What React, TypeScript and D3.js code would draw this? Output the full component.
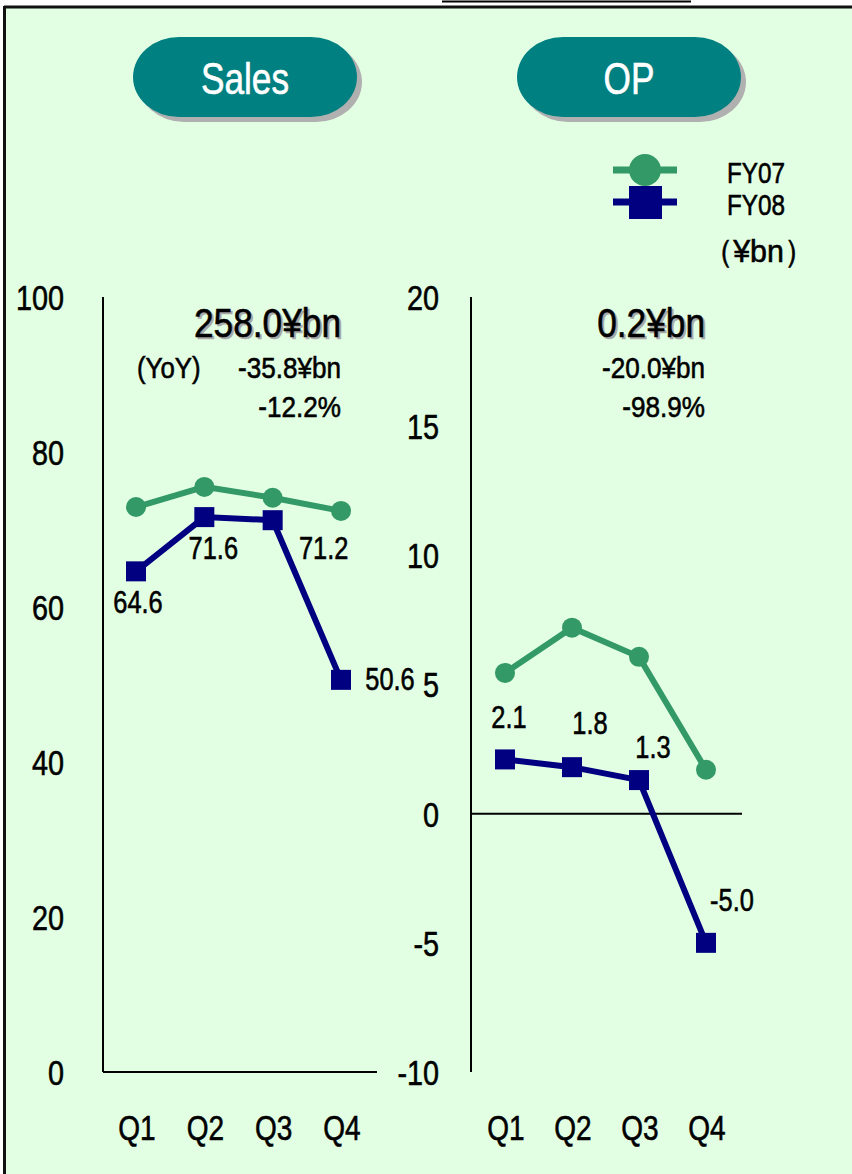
import * as d3 from 'd3';
import type { ReactNode } from 'react';

// values
const quarters = ['Q1', 'Q2', 'Q3', 'Q4'];
const salesFY07 = [72.9, 75.5, 74.1, 72.4];
const salesFY08 = [64.6, 71.6, 71.2, 50.6];
const opFY07 = [5.45, 7.2, 6.07, 1.7];
const opFY08 = [2.1, 1.8, 1.3, -5.0];
const salesTicks = [0, 20, 40, 60, 80, 100];
const opTicks = [-10, -5, 0, 5, 10, 15, 20];
const salesSummary = ['258.0¥bn', '-35.8¥bn', '-12.2%'];
const opSummary = ['0.2¥bn', '-20.0¥bn', '-98.9%'];
const seriesNames = ['FY07', 'FY08'];

// no narrow font installed, so Liberation Sans squeezed horizontally
const FONT = '"Liberation Sans", Arial, sans-serif';
const GREEN = '#339966';
const NAVY = '#000080';
const TEAL = '#008080';
const BG = '#E3FFE3';

// label offsets from the FY08 points [dx, dy]
const salesLabelOffsets = [[2, 42], [9, 42], [51, 39], [49, 10]];
const opLabelOffsets = [[4, -31], [18, -33], [14, -22], [26, -32]];

interface NTextProps {
  x: number;
  y: number;
  size: number;
  sx?: number;
  anchor?: 'start' | 'middle' | 'end';
  fill?: string;
  dy?: string;
  children: ReactNode;
}

function NText({ x, y, size, sx = 0.8, anchor = 'start', fill = '#000', dy, children }: NTextProps) {
  // thin stroke of the same colour to get the slightly heavier look of the original
  return (
    <text transform={`translate(${x},${y}) scale(${sx},1)`} dy={dy} textAnchor={anchor}
      fontSize={size} fill={fill} stroke={fill} strokeWidth={0.6} fontFamily={FONT}>{children}</text>
  );
}

interface PanelProps {
  title: string;
  domain: [number, number];
  ticks: number[];
  fy07: number[];
  fy08: number[];
  xRange: [number, number];
  axisX: number;
  axisEnd: number;
  tickRight: number;
  baseValue: number;
  offsets: number[][];
  summary: string[];
  summaryRight: number;
  yoy: boolean;
  pillX: number;
}

function Panel(p: PanelProps) {
  const y = d3.scaleLinear().domain(p.domain).range([1072, 297]);
  const x = d3.scalePoint<string>().domain(quarters).range(p.xRange);
  const line = d3.line<number>().x((_, i) => x(quarters[i])!).y(d => y(d));
  const pillW = 224, pillH = 80;
  return (
    <g>
      {/* title pill */}
      <rect x={p.pillX + 5} y={42} width={pillW} height={pillH} rx={46} ry={40} fill="#B0B0B0" />
      <rect x={p.pillX} y={37} width={pillW} height={pillH} rx={46} ry={40} fill={TEAL} />
      <NText x={p.pillX + pillW / 2} y={94} size={44} anchor="middle" fill="#fff">{p.title}</NText>

      {/* axes */}
      <line x1={p.axisX} x2={p.axisX} y1={297} y2={1072} stroke="#000" strokeWidth={2} />
      <line x1={p.axisX} x2={p.axisEnd} y1={y(p.baseValue)} y2={y(p.baseValue)} stroke="#000" strokeWidth={2} />
      {p.ticks.map(t => (
        <NText key={t} x={p.tickRight} y={y(t)} dy="0.36em" anchor="end" size={36}>{t}</NText>
      ))}
      {quarters.map(q => (
        <NText key={q} x={x(q)! + 1} y={1140} anchor="middle" size={35}>{q}</NText>
      ))}

      {/* series */}
      <path d={line(p.fy07)!} fill="none" stroke={GREEN} strokeWidth={6} />
      {p.fy07.map((v, i) => (
        <circle key={i} cx={x(quarters[i])} cy={y(v)} r={10} fill={GREEN} />
      ))}
      <path d={line(p.fy08)!} fill="none" stroke={NAVY} strokeWidth={6} />
      {p.fy08.map((v, i) => (
        <rect key={i} x={x(quarters[i])! - 10} y={y(v) - 10} width={20} height={20} fill={NAVY} />
      ))}
      {p.fy08.map((v, i) => (
        <NText key={i} x={x(quarters[i])! + p.offsets[i][0]} y={y(v) + p.offsets[i][1]} anchor="middle"
          size={31} sx={0.82}>{v.toFixed(1)}</NText>
      ))}

      {/* summary */}
      <NText x={p.summaryRight + 2} y={339} anchor="end" size={41} sx={0.86} fill="#A8A8A8">{p.summary[0]}</NText>
      <NText x={p.summaryRight} y={337} anchor="end" size={41} sx={0.86}>{p.summary[0]}</NText>
      <NText x={p.summaryRight} y={378} anchor="end" size={30} sx={0.87}>{p.summary[1]}</NText>
      <NText x={p.summaryRight} y={417} anchor="end" size={30} sx={0.87}>{p.summary[2]}</NText>
      {p.yoy && <NText x={137} y={378} size={30} sx={0.86}>(YoY)</NText>}
    </g>
  );
}

export default function App() {
  return (
    <svg width={852} height={1174} style={{ position: 'absolute', left: 0, top: 0 }}>
      <rect x={0} y={0} width={852} height={1174} fill="#fff" />
      <rect x={5} y={7} width={847} height={1167} fill={BG} />
      <line x1={4} x2={852} y1={7} y2={7} stroke="#111" strokeWidth={3} />
      <line x1={4.5} x2={4.5} y1={6} y2={1174} stroke="#111" strokeWidth={3} />
      <line x1={442} x2={691} y1={1.5} y2={1.5} stroke="#000" strokeWidth={2} />

      <Panel title="Sales" domain={[0, 100]} ticks={salesTicks} fy07={salesFY07} fy08={salesFY08}
        xRange={[136, 341]} axisX={103} axisEnd={377} tickRight={64} baseValue={0}
        offsets={salesLabelOffsets} summary={salesSummary} summaryRight={341} yoy={true} pillX={133} />
      <Panel title="OP" domain={[-10, 20]} ticks={opTicks} fy07={opFY07} fy08={opFY08}
        xRange={[505, 706]} axisX={471} axisEnd={742} tickRight={439} baseValue={0}
        offsets={opLabelOffsets} summary={opSummary} summaryRight={705} yoy={false} pillX={517} />

      {/* legend */}
      <line x1={613} x2={677} y1={170} y2={170} stroke={GREEN} strokeWidth={7} />
      <circle cx={645} cy={170} r={16} fill={GREEN} />
      <line x1={613} x2={677} y1={202} y2={202} stroke={NAVY} strokeWidth={7} />
      <rect x={629} y={186} width={33} height={33} fill={NAVY} />
      <NText x={727} y={183} size={30} sx={0.81}>{seriesNames[0]}</NText>
      <NText x={727} y={215} size={30} sx={0.81}>{seriesNames[1]}</NText>
      <NText x={703} y={262} size={32} sx={0.95}>（¥bn）</NText>
    </svg>
  );
}
